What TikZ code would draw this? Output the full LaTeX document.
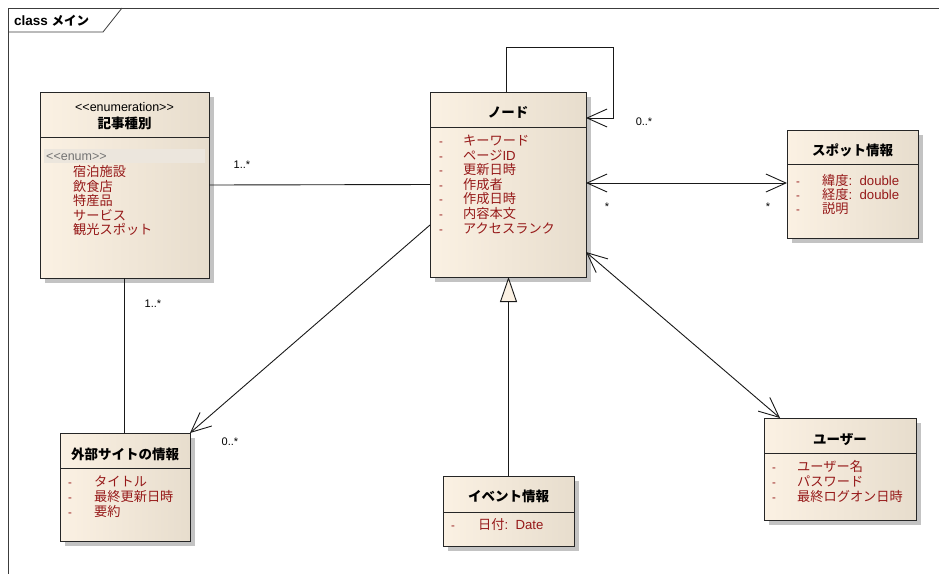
\documentclass[tikz,border=0pt]{standalone}
\usepackage{fontspec}
\setmainfont{Liberation Sans}
\newfontfamily\jp{Noto Sans CJK JP}
\newfontfamily\lat{Liberation Sans}
\usetikzlibrary{arrows.meta,shadows}
\definecolor{attrc}{RGB}{150,25,25}
\definecolor{creamL}{RGB}{251,241,227}
\definecolor{creamR}{RGB}{231,221,205}
\definecolor{shadowc}{RGB}{195,195,195}
\definecolor{bandc}{RGB}{236,230,221}
\definecolor{framec}{RGB}{60,60,60}
\newcommand\latbig[1]{{\lat\fontsize{13.2}{15}\selectfont #1}}
\begin{document}
\begin{tikzpicture}[x=1pt,y=-1pt,
  cls/.style={draw=black!85, line width=1pt, left color=creamL, right color=creamR,
    drop shadow={shadow xshift=5pt, shadow yshift=-5pt, fill=shadowc, opacity=1}, inner sep=0, outer sep=0},
  ttl/.style={font=\jp\bfseries\fontsize{13.5}{15}\selectfont, inner sep=0, anchor=base},
  atx/.style={font=\jp\fontsize{13.2}{15}\selectfont, text=attrc, anchor=base west, inner sep=0},
  dsh/.style={font=\lat\fontsize{11.5}{13}\selectfont, text=attrc, anchor=base west, inner sep=0},
  lbl/.style={font=\lat\fontsize{11}{12}\selectfont, inner sep=0, anchor=base},
  conn/.style={line width=0.9pt, draw=black!90},
  barb/.style={conn, -{Straight Barb[length=20pt,width=18pt]}},
  barbs/.style={conn, {Straight Barb[length=20pt,width=18pt]}-{Straight Barb[length=20pt,width=18pt]}},
  gen/.style={conn, -{Triangle[length=25pt,width=17pt,fill=creamL]}}
]
\useasboundingbox (0,0) rectangle (939,574);
\fill[white] (0,0) rectangle (939,574);

% frame
\draw[framec, line width=0.8pt] (939,8) -- (8,8) -- (8,574);
\draw[framec, line width=0.8pt] (8,32) -- (103,32) -- (122,8);
\node[anchor=base west, inner sep=0, font=\lat\bfseries\fontsize{13.5}{15}\selectfont] (frametitle) at (14,25) {class {\jp\fontsize{12.5}{15}\selectfont メイン}};

% boxes
\node[cls, minimum width=169pt, minimum height=186pt] (kiji) at (124.5,185) {};
\node[cls, minimum width=156pt, minimum height=185pt] (nodebox) at (508,184.5) {};
\node[cls, minimum width=131pt, minimum height=108pt] (spot) at (852.5,184) {};
\node[cls, minimum width=130pt, minimum height=108pt] (gaibu) at (125,487) {};
\node[cls, minimum width=131pt, minimum height=70pt] (event) at (508.5,511) {};
\node[cls, minimum width=152pt, minimum height=102pt] (user) at (840,469) {};

% separators
\draw[black!85, line width=1pt] (kiji.west |- 0,137) -- (kiji.east |- 0,137);
\draw[black!85, line width=1pt] (nodebox.west |- 0,127) -- (nodebox.east |- 0,127);
\draw[black!85, line width=1pt] (spot.west |- 0,164) -- (spot.east |- 0,164);
\draw[black!85, line width=1pt] (gaibu.west |- 0,468) -- (gaibu.east |- 0,468);
\draw[black!85, line width=1pt] (event.west |- 0,512) -- (event.east |- 0,512);
\draw[black!85, line width=1pt] (user.west |- 0,453) -- (user.east |- 0,453);

% headers
\node[inner sep=0, anchor=base, font=\lat\fontsize{12.5}{14}\selectfont] (kijist) at (124.5,111) {<\kern0pt<enumeration>\kern0pt>};
\node[ttl] (kijit) at (124.5,128.5) {記事種別};
\node[ttl] (nodet) at (508,117) {ノード};
\node[ttl] (spott) at (852.5,155) {スポット情報};
\node[ttl] (gaibut) at (125,459) {外部サイトの情報};
\node[ttl] (eventt) at (508.5,501) {イベント情報};
\node[ttl] (usert) at (840,444) {ユーザー};

% enum
\fill[bandc] (44,149) rectangle (205,163);
\node[anchor=base west, inner sep=0, text=black!55, font=\lat\fontsize{12.5}{14}\selectfont] (enumst) at (46,160.5) {<\kern0pt<enum>\kern0pt>};
\node[atx] (e1) at (73,176) {宿泊施設};
\node[atx] (e2) at (73,191) {飲食店};
\node[atx] (e3) at (73,205) {特産品};
\node[atx] (e4) at (73,220) {サービス};
\node[atx] (e5) at (73,234) {観光スポット};

% node attributes
\node[dsh] (nd1) at (439,145) {-}; \node[atx] (na1) at (463,145) {キーワード};
\node[dsh] (nd2) at (439,160) {-}; \node[atx] (na2) at (463,160) {ページ\latbig{ID}};
\node[dsh] (nd3) at (439,174) {-}; \node[atx] (na3) at (463,174) {更新日時};
\node[dsh] (nd4) at (439,189) {-}; \node[atx] (na4) at (463,189) {作成者};
\node[dsh] (nd5) at (439,203) {-}; \node[atx] (na5) at (463,203) {作成日時};
\node[dsh] (nd6) at (439,218) {-}; \node[atx] (na6) at (463,218) {内容本文};
\node[dsh] (nd7) at (439,233) {-}; \node[atx] (na7) at (463,233) {アクセスランク};

% spot attributes
\node[dsh] (sd1) at (796,185) {-}; \node[atx] (sa1) at (822,185) {緯度\latbig{:\ \ double}};
\node[dsh] (sd2) at (796,199) {-}; \node[atx] (sa2) at (822,199) {経度\latbig{:\ \ double}};
\node[dsh] (sd3) at (796,213) {-}; \node[atx] (sa3) at (822,213) {説明};

% gaibu attributes
\node[dsh] (gd1) at (68,486) {-}; \node[atx] (ga1) at (94,486) {タイトル};
\node[dsh] (gd2) at (68,501) {-}; \node[atx] (ga2) at (94,501) {最終更新日時};
\node[dsh] (gd3) at (68,516) {-}; \node[atx] (ga3) at (94,516) {要約};

% event attributes
\node[dsh] (vd1) at (451,529) {-}; \node[atx] (va1) at (478,529) {日付\latbig{:\ \ Date}};

% user attributes
\node[dsh] (ud1) at (772,471) {-}; \node[atx] (ua1) at (797,471) {ユーザー名};
\node[dsh] (ud2) at (772,486) {-}; \node[atx] (ua2) at (797,486) {パスワード};
\node[dsh] (ud3) at (772,501) {-}; \node[atx] (ua3) at (797,501) {最終ログオン日時};

% connectors
\draw[conn] (kiji.east) -- (nodebox.west);
\draw[conn] (kiji.south) -- (kiji.south |- gaibu.north);
\coordinate (nodeleft) at (430,225);
\draw[barb] (nodeleft) -- (gaibu.north east);
\coordinate (looptop) at (613,47);
\coordinate (loopend) at (586,118);
\draw[barb] (nodebox.north -| 506,0) |- (looptop) |- (loopend);
\draw[barbs] (nodebox.east |- 0,183) -- (spot.west |- 0,183);
\coordinate (nodebr) at (586,252);
\coordinate (userin) at (780,418);
\draw[barbs] (nodebr) -- (userin);
\draw[gen] (event.north) -- (event.north |- nodebox.south);

% multiplicities
\node[lbl] (m1) at (242,168) {1..*};
\node[lbl] (m2) at (153,307) {1..*};
\node[lbl] (m3) at (230,445) {0..*};
\node[lbl] (m4) at (644,125) {0..*};
\node[lbl] (m5) at (607,210) {*};
\node[lbl] (m6) at (768,210) {*};
\end{tikzpicture}
\end{document}
